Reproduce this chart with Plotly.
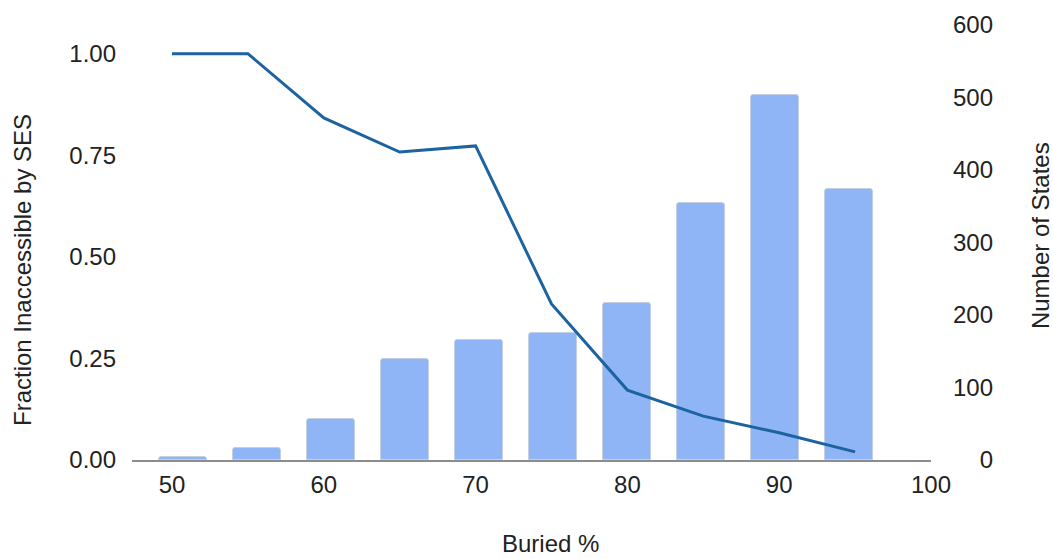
import plotly.graph_objects as go

# Buried-percentage bins
buried_pct = [50, 55, 60, 65, 70, 75, 80, 85, 90, 95]
# Fraction of states inaccessible by SES in each bin (left axis)
fraction_inaccessible = [1.0, 1.0, 0.842, 0.758, 0.773, 0.384, 0.172, 0.108, 0.067, 0.020]
# Number of states in each bin (right axis)
num_states = [4, 16, 57, 139, 165, 175, 217, 355, 503, 374]

left_tick_vals = [0, 0.25, 0.5, 0.75, 1.0]
left_tick_text = ["0.00", "0.25", "0.50", "0.75", "1.00"]
right_tick_vals = [0, 100, 200, 300, 400, 500, 600]
x_tick_vals = [50, 60, 70, 80, 90, 100]

FONT = "Liberation Sans, Arial, sans-serif"
TEXT = "#222222"
FS = 24

# right-hand labels are right-aligned, so pad with figure spaces
right_tick_text = [str(v).rjust(3, "\u2007") for v in right_tick_vals]

fig = go.Figure()

# count bars on the base subplot (category-style spacing)
fig.add_trace(go.Bar(
    x=buried_pct, y=num_states,
    xaxis="x", yaxis="y",
    width=3.243,
    marker=dict(color="#8fb5f7", line=dict(color="#c5cfe2", width=1), cornerradius=3),
    showlegend=False, hoverinfo="x+y",
))

# fraction line on the overlaid numeric subplot
fig.add_trace(go.Scatter(
    x=buried_pct, y=fraction_inaccessible,
    xaxis="x2", yaxis="y2",
    mode="lines",
    line=dict(color="#1c63a0", width=3),
    showlegend=False,
))

fig.update_layout(
    width=1053, height=559,
    margin=dict(l=132, r=122, t=25, b=99),
    paper_bgcolor="white", plot_bgcolor="white",
    font=dict(family=FONT, size=FS, color=TEXT),
    bargap=0,
    xaxis=dict(
        range=[46.554, 100.54], visible=False, fixedrange=True,
    ),
    yaxis=dict(
        side="right", range=[0, 600],
        tickvals=right_tick_vals, ticktext=right_tick_text,
        showgrid=False, zeroline=False, showline=False,
        ticks="", ticklabelstandoff=21,
        tickfont=dict(family=FONT, size=FS, color=TEXT),
    ),
    xaxis2=dict(
        overlaying="x", anchor="y2", side="bottom",
        range=[47.365, 100],
        tickvals=x_tick_vals,
        showgrid=False, zeroline=False,
        showline=True, linecolor="#8c8c8c", linewidth=2,
        ticks="", ticklabelstandoff=2,
        tickfont=dict(family=FONT, size=FS, color=TEXT),
    ),
    yaxis2=dict(
        overlaying="y", side="left", range=[0, 1.0706],
        tickvals=left_tick_vals, ticktext=left_tick_text,
        showgrid=False, zeroline=False, showline=False,
        ticks="", ticklabelstandoff=15,
        tickfont=dict(family=FONT, size=FS, color=TEXT),
    ),
    annotations=[
        dict(text="Fraction Inaccessible by SES", xref="paper", yref="paper",
             x=-0.1364, y=0.4368, textangle=-90, showarrow=False,
             xanchor="center", yanchor="middle",
             font=dict(family=FONT, size=FS, color=TEXT)),
        dict(text="Number of States", xref="paper", yref="paper",
             x=1.1364, y=0.517, textangle=-90, showarrow=False,
             xanchor="center", yanchor="middle",
             font=dict(family=FONT, size=FS, color=TEXT)),
        dict(text="Buried %", xref="paper", yref="paper",
             x=0.5244, y=-0.193, showarrow=False,
             xanchor="center", yanchor="middle",
             font=dict(family=FONT, size=FS, color=TEXT)),
    ],
)

fig.write_html("out.html")
